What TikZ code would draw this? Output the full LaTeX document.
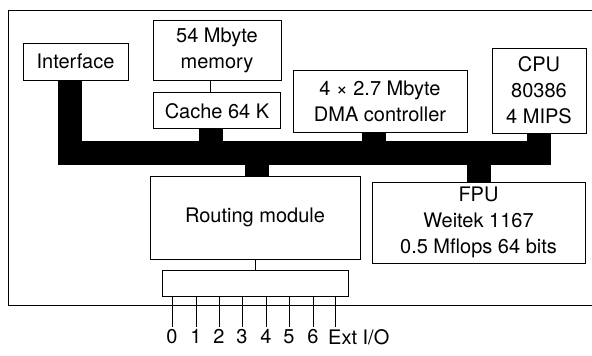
\documentclass[tikz,border=0pt]{standalone}
\usepackage{fontspec}
\setmainfont{TeX Gyre Heros}
\usetikzlibrary{positioning,calc}
\tikzset{
  blk/.style={draw, line width=0.9pt, inner sep=0pt, align=center, font={\fontsize{20}{26}\selectfont}},
  bus/.style={line width=24pt, line cap=butt, line join=miter},
  thn/.style={line width=0.9pt},
  lbl/.style={font={\fontsize{20}{24}\selectfont}, inner sep=2pt},
}
\begin{document}
\begin{tikzpicture}[x=1pt, y=-1pt]
\useasboundingbox (0,0) rectangle (592,356);
% frame (open on the right)
\draw[thn] (592,10) -- (8,10) -- (8,305) -- (592,305);
% units
\node[blk, minimum width=105pt, minimum height=37pt] (iface) at (75.5,61.5) {Interface};
\node[blk, minimum width=128pt, minimum height=60pt] (mem) at (217,50) {54 Mbyte\\memory};
\node[blk, minimum width=127pt, minimum height=36pt, below=12pt of mem] (cache) {Cache 64 K};
\node[blk, minimum width=174pt, minimum height=62pt] (dma) at (380,101) {4 × 2.7 Mbyte\\DMA controller};
\node[blk, minimum width=94pt, minimum height=85pt] (cpu) at (539,90.5) {CPU\\80386\\4 MIPS};
\node[blk, minimum width=210pt, minimum height=83pt] (route) at (255,217.5) {Routing module};
\node[blk, minimum width=213pt, minimum height=81pt] (fpu) at (478.5,222.5) {FPU\\Weitek 1167\\0.5 Mflops 64 bits};
\node[blk, minimum width=186pt, minimum height=26pt, below=11pt of route] (ports) {};
\coordinate (busy) at (0,152.5);
\coordinate (ifx) at (70,0);
% bus
\draw[bus] (iface.south -| ifx) -- (ifx |- busy) -- (cpu.south |- busy) -- (cpu.south);
\draw[bus] ([xshift=-6pt]cache.south) -- ([xshift=-6pt]cache.south |- busy);
\draw[bus] ([xshift=-6pt]dma.south) -- ([xshift=-6pt]dma.south |- busy);
\draw[bus] ([xshift=2pt]route.north) -- ([xshift=2pt]route.north |- busy);
\draw[bus] (fpu.north) -- (fpu.north |- busy);
% thin links
\draw[thn] ([xshift=-7pt]cache.north) -- ([xshift=-7pt]cache.north |- mem.south);
\draw[thn] (route.south) -- (ports.north);
% ports
\foreach \x/\l [count=\i] in {172/0,196/1,219/2,242/3,266/4,289/5,313/6} {
  \coordinate (p\i) at (\x,327);
  \draw[thn] (ports.south -| p\i) -- (p\i);
  \node[lbl, below] (n\i) at (p\i) {\l};
}
\coordinate (pext) at (335,327);
\draw[thn] (ports.south -| pext) -- (pext);
\node[lbl, below right] (next) at ([xshift=-9pt]pext) {Ext I/O};
\end{tikzpicture}
\end{document}
